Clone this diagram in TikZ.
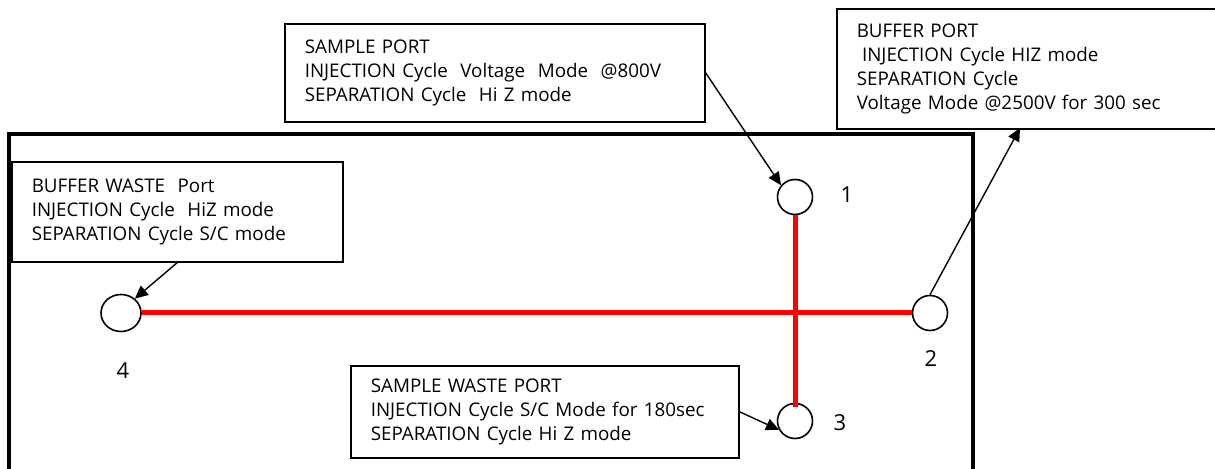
\documentclass[tikz,border=0pt]{standalone}
\usepackage{fontspec}
\setmainfont{Open Sans}
\usetikzlibrary{arrows.meta,shapes.geometric}

\tikzset{
  portbox/.style={draw, line width=0.8pt, anchor=north west, align=left,
    inner xsep=10pt, inner ysep=0pt, font=\fontsize{9.4pt}{12pt}\selectfont},
  port/.style={draw, circle, line width=0.8pt, minimum size=17.5pt, inner sep=0pt},
  channel/.style={red, line width=2.5pt},
  pointer/.style={-{Triangle[length=6.5pt,width=6pt]}, line width=0.7pt}
}

\begin{document}
\begin{tikzpicture}[x=0.5pt, y=-0.5pt]
  \useasboundingbox (0,0) rectangle (1215,469);

  % Chip outline
  \draw[line width=1.8pt] (9,480) -- (9,134) -- (973,134) -- (973,480);

  % Ports
  \node[port] (p1) at (795,197) {};
  \node[port] (p2) at (930,313) {};
  \node[port] (p3) at (795,421) {};
  \node[draw, ellipse, line width=0.8pt, minimum width=20pt, minimum height=18.5pt,
    inner sep=0pt] (p4) at (121,313) {};

  % Port numbers
  \foreach \n/\x/\y in {1/847/195, 2/931/359, 3/840/423, 4/123/371}
    \node[font=\fontsize{11pt}{13pt}\selectfont] (n\n) at (\x,\y) {\n};

  % Channels
  \draw[channel] (p4.east) -- (p2.west);
  \draw[channel] (p1.south) -- ([yshift=-2pt]p3.north);

  % Text boxes
  \node[portbox, text width=190pt, minimum height=49pt] (sp) at (284,23)
    {SAMPLE PORT\\INJECTION Cycle\ \ Voltage\ \ Mode\ \ @800V\\SEPARATION Cycle\ \ Hi Z mode};
  \node[portbox, text width=179pt, minimum height=60pt] (bp) at (836,8)
    {BUFFER PORT\\\hspace*{0.28em}INJECTION Cycle HIZ mode\\SEPARATION Cycle\\Voltage Mode @2500V for 300 sec};
  \node[portbox, text width=145.5pt, minimum height=50pt] (bw) at (11,161)
    {BUFFER WASTE\ \ Port\\INJECTION Cycle\ \ HiZ mode\\SEPARATION Cycle S/C mode};
  \node[portbox, text width=174pt, minimum height=46pt] (sw) at (350,365)
    {SAMPLE WASTE PORT\\INJECTION Cycle S/C Mode for 180sec\\SEPARATION Cycle Hi Z mode};

  % Pointers
  \coordinate (bptip) at (1020,128);
  \draw[pointer] (sp.east) -- (p1.140);
  \draw[pointer] (p2.north) -- (bptip);
  \draw[pointer] (bw.south) -- (p4.46);
  \draw[pointer] (sw.east) -- (p3.209);
\end{tikzpicture}
\end{document}
